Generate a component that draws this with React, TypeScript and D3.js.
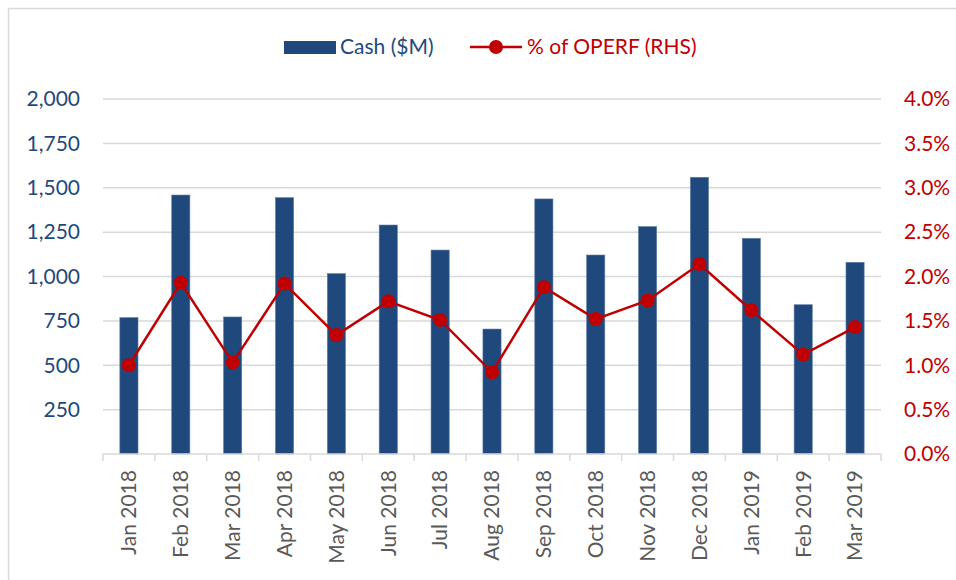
import { useEffect, useRef } from 'react'
import * as d3 from 'd3'

const MONTHS = ['Jan 2018', 'Feb 2018', 'Mar 2018', 'Apr 2018', 'May 2018', 'Jun 2018', 'Jul 2018', 'Aug 2018',
  'Sep 2018', 'Oct 2018', 'Nov 2018', 'Dec 2018', 'Jan 2019', 'Feb 2019', 'Mar 2019']
const CASH = [768, 1459, 772, 1444, 1016, 1290, 1149, 704, 1437, 1121, 1281, 1559, 1215, 841, 1080]
const PCT = [0.0100, 0.0193, 0.0103, 0.0192, 0.0134, 0.0172, 0.0151, 0.0092, 0.0188, 0.0152, 0.0173, 0.0214, 0.0162, 0.0112, 0.0143]
const LEFT_TICKS = [250, 500, 750, 1000, 1250, 1500, 1750, 2000]
const RIGHT_TICKS = [0, 0.005, 0.01, 0.015, 0.02, 0.025, 0.03, 0.035, 0.04]

const W = 956, H = 580
const BLUE = '#1F497D', RED = '#C00000', GRID = '#D9D9D9', GREY = '#595959'
const FONT = 'Lato, Carlito, "Open Sans", sans-serif'

export default function App() {
  const svgRef = useRef<SVGSVGElement>(null)

  useEffect(() => {
    if (!svgRef.current) return
    const svg = d3.select(svgRef.current)
    svg.selectAll('*').remove()

    const left = 103, right = 881, top = 99, bottom = 454
    const x = d3.scaleBand<string>().domain(MONTHS).range([left, right]).paddingInner(0.65).paddingOuter(0.325)
    const y = d3.scaleLinear().domain([0, 2000]).range([bottom, top])
    const y2 = d3.scaleLinear().domain([0, 0.04]).range([bottom, top])

    // frame (only top and left edges show in the crop)
    svg.append('path').attr('d', `M8.5,${H} V8.5 H${W}`).attr('fill', 'none').attr('stroke', GRID).attr('stroke-width', 1.5)

    // gridlines
    svg.append('g').selectAll('line').data(LEFT_TICKS).join('line')
      .attr('x1', left).attr('x2', right).attr('y1', d => y(d)).attr('y2', d => y(d))
      .attr('stroke', GRID).attr('stroke-width', 1.5)

    // left labels
    svg.append('g').selectAll('text').data(LEFT_TICKS).join('text')
      .attr('x', 80).attr('y', d => y(d)).attr('dy', '0.35em').attr('text-anchor', 'end')
      .attr('fill', BLUE).attr('font-size', 21).attr('font-family', FONT)
      .text(d => d3.format(',')(d))

    // right labels
    svg.append('g').selectAll('text').data(RIGHT_TICKS).join('text')
      .attr('x', 904).attr('y', d => y2(d)).attr('dy', '0.35em').attr('text-anchor', 'start')
      .attr('fill', RED).attr('font-size', 21).attr('font-family', FONT)
      .text(d => d3.format('.1%')(d))

    // bars
    svg.append('g').selectAll('rect').data(CASH).join('rect')
      .attr('x', (_, i) => x(MONTHS[i])!).attr('width', x.bandwidth())
      .attr('y', d => y(d)).attr('height', d => bottom - y(d))
      .attr('fill', BLUE).attr('stroke', '#5d7ba3').attr('stroke-width', 0.6)

    // axis baseline and category ticks
    svg.append('line').attr('x1', left).attr('x2', right).attr('y1', bottom).attr('y2', bottom)
      .attr('stroke', GRID).attr('stroke-width', 1.5)
    const step = x.step()
    svg.append('g').selectAll('line').data(d3.range(MONTHS.length + 1)).join('line')
      .attr('x1', i => left + i * step).attr('x2', i => left + i * step)
      .attr('y1', bottom).attr('y2', bottom + 7)
      .attr('stroke', GRID).attr('stroke-width', 1.5)

    // category labels
    svg.append('g').selectAll('text').data(MONTHS).join('text')
      .attr('transform', d => `translate(${x(d)! + x.bandwidth() / 2},470) rotate(-90)`)
      .attr('dy', '0.35em').attr('text-anchor', 'end')
      .attr('fill', GREY).attr('font-size', 21).attr('font-family', FONT)
      .text(d => d)

    // line series
    const line = d3.line<number>()
      .x((_, i) => x(MONTHS[i])! + x.bandwidth() / 2)
      .y(d => y2(d))
    svg.append('path').datum(PCT).attr('d', line).attr('fill', 'none')
      .attr('stroke', RED).attr('stroke-width', 2.5)
    svg.append('g').selectAll('circle').data(PCT).join('circle')
      .attr('cx', (_, i) => x(MONTHS[i])! + x.bandwidth() / 2).attr('cy', d => y2(d))
      .attr('r', 7).attr('fill', RED)

    // legend
    const ly = 47
    const lg = svg.append('g').attr('font-family', FONT).attr('font-size', 21)
    lg.append('rect').attr('x', 284).attr('y', ly - 6).attr('width', 52).attr('height', 13).attr('fill', BLUE)
    lg.append('text').attr('x', 340).attr('y', ly).attr('dy', '0.35em').attr('fill', BLUE).text('Cash ($M)')
    lg.append('line').attr('x1', 470).attr('x2', 522).attr('y1', ly).attr('y2', ly).attr('stroke', RED).attr('stroke-width', 2.5)
    lg.append('circle').attr('cx', 496).attr('cy', ly).attr('r', 7).attr('fill', RED)
    lg.append('text').attr('x', 527).attr('y', ly).attr('dy', '0.35em').attr('fill', RED).text('% of OPERF (RHS)')
  }, [])

  return (
    <div style={{ position: 'fixed', left: 0, top: 0, width: W, height: H, background: '#fff' }}>
      <svg ref={svgRef} width={W} height={H} style={{ display: 'block' }} />
    </div>
  )
}
